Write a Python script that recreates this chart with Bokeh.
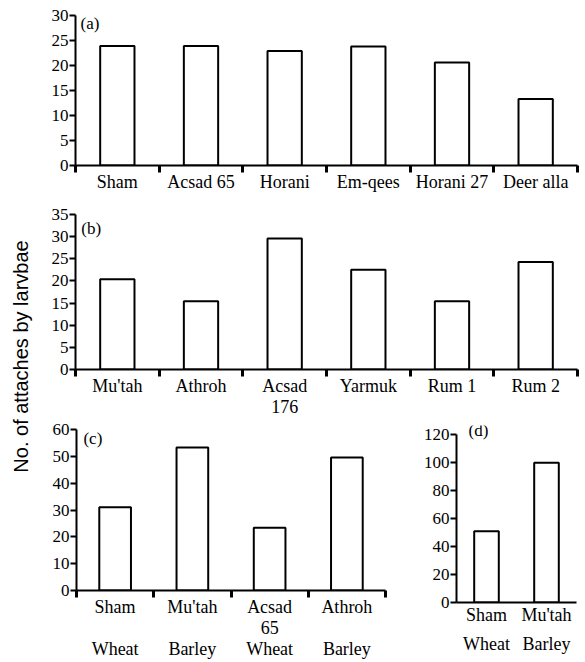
import math
from bokeh.plotting import figure
from bokeh.layouts import row, column
from bokeh.models import Range1d, FixedTicker, Label
from bokeh.embed import file_html
from bokeh.resources import INLINE

SERIF = "Liberation Serif"
SANS = "Liberation Sans"

# ---------------- data ----------------
a_labels = ["Sham", "Acsad 65", "Horani", "Em-qees", "Horani 27", "Deer alla"]
a_values = [23.9, 23.9, 22.9, 23.8, 20.6, 13.3]
a_yticks = [0, 5, 10, 15, 20, 25, 30]

b_labels = ["Mu'tah", "Athroh", "Acsad\n176", "Yarmuk", "Rum 1", "Rum 2"]
b_values = [20.4, 15.4, 29.6, 22.5, 15.4, 24.3]
b_yticks = [0, 5, 10, 15, 20, 25, 30, 35]

c_labels = ["Sham\n\nWheat", "Mu'tah\n\nBarley", "Acsad\n65\nWheat", "Athroh\n\nBarley"]
c_values = [31.0, 53.3, 23.4, 49.6]
c_yticks = [0, 10, 20, 30, 40, 50, 60]

d_labels = ["Sham\nWheat", "Mu'tah\nBarley"]
d_values = [51.0, 100.0]
d_yticks = [0, 20, 40, 60, 80, 100, 120]

y_title = "No. of attaches by larvbae"


def panel(labels, values, yticks, tag, width, height, left, right, top, bottom,
          tag_dx, tag_y, y_end=None, sep_ticks=True, tick_out=0, standoff=0,
          line_height=1.07):
    n = len(labels)
    idx = list(range(n))
    p = figure(width=width, height=height, output_backend="svg",
               toolbar_location=None, title=None,
               x_range=Range1d(-0.5, n - 0.5),
               y_range=Range1d(yticks[0], y_end if y_end else yticks[-1]))
    p.min_border_left = left
    p.min_border_right = right
    p.min_border_top = top
    p.min_border_bottom = bottom
    p.outline_line_color = None
    p.xgrid.visible = False
    p.ygrid.visible = False
    p.background_fill_color = "white"
    p.border_fill_color = "white"

    p.vbar(x=idx, top=values, width=0.41, bottom=0,
           fill_color="white", line_color="black", line_width=2)

    xa = p.xaxis[0]
    minor = [i - 0.5 for i in range(n + 1)] if sep_ticks else []
    xa.ticker = FixedTicker(ticks=idx, minor_ticks=minor)
    xa.major_label_overrides = {i: lab for i, lab in zip(idx, labels)}
    xa.major_tick_line_color = None
    xa.major_tick_in = 0
    xa.major_tick_out = tick_out
    xa.minor_tick_in = 0
    xa.minor_tick_out = 7
    xa.minor_tick_line_width = 3
    xa.minor_tick_line_color = "black"
    xa.axis_line_width = 2
    xa.axis_line_color = "black"
    xa.major_label_standoff = standoff
    xa.major_label_text_font = SERIF
    xa.major_label_text_font_size = "18px"
    xa.major_label_text_line_height = line_height
    xa.major_label_text_color = "black"

    ya = p.yaxis[0]
    ya.ticker = FixedTicker(ticks=yticks)
    ya.bounds = (yticks[0], yticks[-1])
    ya.major_tick_in = 0
    ya.major_tick_out = 6
    ya.minor_tick_in = 0
    ya.minor_tick_out = 0
    ya.major_tick_line_width = 2
    ya.major_tick_line_color = "black"
    ya.axis_line_width = 2
    ya.axis_line_color = "black"
    ya.major_label_standoff = 1
    ya.major_label_text_font = SERIF
    ya.major_label_text_font_size = "17px"
    ya.major_label_text_color = "black"

    p.add_layout(Label(x=-0.5 + tag_dx, y=tag_y, text=tag, text_font=SERIF,
                       text_font_size="17px", text_baseline="middle",
                       text_align="left", text_color="black"))
    return p


pa = panel(a_labels, a_values, a_yticks, "(a)", 550, 200, 40, 8, 15, 35,
           0.06, 28.4, tick_out=0, standoff=-1)
pb = panel(b_labels, b_values, b_yticks, "(b)", 550, 219, 40, 8, 14, 47,
           0.07, 31.9, tick_out=0, standoff=-1)
pc = panel(c_labels, c_values, c_yticks, "(c)", 385, 243, 41, 35, 10, 69,
           0.09, 56.8, tick_out=0, standoff=-1)
pd = panel(d_labels, d_values, d_yticks, "(d)", 165, 243, 35, 9, 6, 60,
           0.2, 122.7, y_end=126.6, sep_ticks=False, tick_out=2,
           line_height=1.45)

# narrow strip holding the shared y-axis title
pt = figure(width=35, height=662, output_backend="svg", toolbar_location=None,
            title=None, x_range=Range1d(0, 35), y_range=Range1d(0, 662))
pt.min_border = 0
pt.axis.visible = False
pt.grid.visible = False
pt.outline_line_color = None
pt.background_fill_color = "white"
pt.border_fill_color = "white"
pt.add_layout(Label(x=20, y=306, text=y_title, angle=math.pi / 2,
                    text_font=SANS, text_font_size="20px",
                    text_align="center", text_baseline="middle",
                    text_color="black"))

layout = row(pt, column(pa, pb, row(column(pc), column(pd))))

open("out.html", "w").write(file_html(layout, INLINE))
